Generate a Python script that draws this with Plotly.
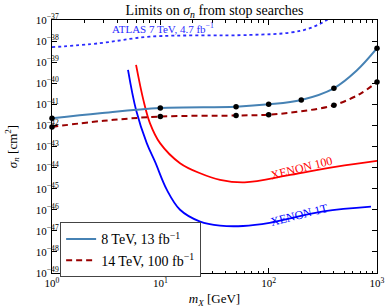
import plotly.graph_objects as go
import numpy as np

# 8 TeV, 13 fb^-1 limit (solid) line and marker points
m8_line = [1, 2.77, 10, 50, 100, 200, 400, 650, 1000]
s8_line = [10**-41.66, 10**-41.42, 10**-41.17, 10**-41.11, 10**-41.0, 10**-40.79, 10**-40.24, 10**-39.4, 10**-38.34]
m8_pts = [1, 10, 50, 100, 200, 400, 1000]
s8_pts = [10**-41.66, 10**-41.17, 10**-41.11, 10**-41.0, 10**-40.79, 10**-40.24, 10**-38.34]

# 14 TeV, 100 fb^-1 projection (dashed)
m14_line = [1, 3, 10, 50, 100, 200, 400, 700, 1000]
s14_line = [10**-42.07, 10**-41.78, 10**-41.58, 10**-41.53, 10**-41.49, 10**-41.33, 10**-41.04, 10**-40.5, 10**-39.94]
m14_pts = [1, 10, 50, 100, 400, 1000]
s14_pts = [10**-42.07, 10**-41.58, 10**-41.53, 10**-41.49, 10**-41.04, 10**-39.94]

# XENON 100
mx100 = [5.97, 6.97, 8.03, 9.94, 15.2, 23.3, 35.6, 60, 158, 425, 1000]
sx100 = [10**-39.13, 10**-40.79, 10**-41.9, 10**-42.84, 10**-43.79, 10**-44.27, 10**-44.58, 10**-44.7, 10**-44.35, 10**-43.95, 10**-43.68]

# XENON 1T
mx1t = [5.03, 5.97, 7.49, 8.93, 11.5, 15.2, 23.3, 35.6, 58, 102, 320, 880]
sx1t = [10**-39.37, 10**-41.27, 10**-42.84, 10**-43.72, 10**-45.06, 10**-46.0, 10**-46.56, 10**-46.75, 10**-46.77, 10**-46.62, 10**-46.08, 10**-45.85]

# ATLAS 7 TeV, 4.7 fb^-1
m_atlas = [1, 2.77, 8.0, 67, 158, 240, 345, 450]
s_atlas = [10**-38.29, 10**-38.1, 10**-37.79, 10**-37.71, 10**-37.6, 10**-37.39, 10**-37.0, 10**-36.6]

# tick labels
x_tickvals = [1, 10, 100, 1000]
x_ticktext = ["10<sup>0</sup>", "10<sup>1</sup>", "10<sup>2</sup>", "10<sup>3</sup>"]
y_exps = list(range(-49, -36))
y_tickvals = [10.0**e for e in y_exps]
y_ticktext = ["10<sup>−%d</sup>" % (-e) for e in y_exps]

FONT = "Liberation Serif"

fig = go.Figure()
fig.add_trace(go.Scatter(x=m_atlas, y=s_atlas, mode="lines", line=dict(color="#2b2bff", width=1.8, dash="dot", shape="spline"), showlegend=False))
fig.add_trace(go.Scatter(x=mx100, y=sx100, mode="lines", line=dict(color="#ff0000", width=1.8, shape="spline"), showlegend=False))
fig.add_trace(go.Scatter(x=mx1t, y=sx1t, mode="lines", line=dict(color="#0000ff", width=1.8, shape="spline"), showlegend=False))
fig.add_trace(go.Scatter(x=m8_line, y=s8_line, mode="lines", name="8 TeV, 13 fb<sup>−1</sup>",
                         line=dict(color="#4682b4", width=2, shape="spline")))
fig.add_trace(go.Scatter(x=m14_line, y=s14_line, mode="lines", name="14 TeV, 100 fb<sup>−1</sup>",
                         line=dict(color="#990000", width=2, dash="6px,4px", shape="spline")))
fig.add_trace(go.Scatter(x=m8_pts, y=s8_pts, mode="markers", marker=dict(color="black", size=5.5), showlegend=False, cliponaxis=False))
fig.add_trace(go.Scatter(x=m14_pts, y=s14_pts, mode="markers", marker=dict(color="black", size=5.5), showlegend=False, cliponaxis=False))

fig.add_annotation(x=np.log10(10.6), y=-37.4, xref="x", yref="y", text="ATLAS 7 TeV, 4.7 fb<sup>−1</sup>",
                   showarrow=False, font=dict(family=FONT, size=11, color="#2b2bff"), xanchor="center", yanchor="middle")
fig.add_annotation(x=np.log10(200), y=-44.0, xref="x", yref="y", text="XENON 100", textangle=-14,
                   showarrow=False, font=dict(family=FONT, size=12, color="#ff0000"))
fig.add_annotation(x=np.log10(191), y=-46.27, xref="x", yref="y", text="XENON 1T", textangle=-14,
                   showarrow=False, font=dict(family=FONT, size=12, color="#0000ff"))

axis_common = dict(type="log", showline=True, linecolor="black", linewidth=1, mirror="ticks",
                   ticks="inside", ticklen=5, tickcolor="black", showgrid=False, zeroline=False,
                   automargin=False, tickfont=dict(family=FONT, size=11, color="black"))

fig.update_xaxes(**axis_common, range=[0, 3], tickvals=x_tickvals, ticktext=x_ticktext,
                 minor=dict(ticks="inside", ticklen=2.5, tickcolor="black", showgrid=False, dtick="D1"),
                 title=dict(text="<i>m<sub>X</sub></i> [GeV]", font=dict(family=FONT, size=13, color="black")))
fig.update_yaxes(**axis_common, range=[-49, -37], tickvals=y_tickvals, ticktext=y_ticktext,
                 ticklabelstandoff=-10,
                 title=dict(text="<i>σ<sub>n</sub></i> [cm<sup>2</sup>]", font=dict(family=FONT, size=13, color="black")))

fig.update_layout(
    width=390, height=308,
    margin=dict(l=52, r=13, t=20, b=35),
    paper_bgcolor="white", plot_bgcolor="white",
    title=dict(text="Limits on <i>σ<sub>n</sub></i> from stop searches", x=(52 + 377) / 2 / 390, xanchor="center",
               y=1 - 10 / 308, yanchor="middle", font=dict(family=FONT, size=14, color="black")),
    legend=dict(x=0.025, y=0.2, xanchor="left", yanchor="top", bordercolor="#444", borderwidth=1,
                bgcolor="white", font=dict(family=FONT, size=14, color="black"), tracegroupgap=0),
)

fig.write_html("out.html", config={"displayModeBar": False},
               post_script="document.body.style.margin='0';document.body.style.overflow='hidden';")
